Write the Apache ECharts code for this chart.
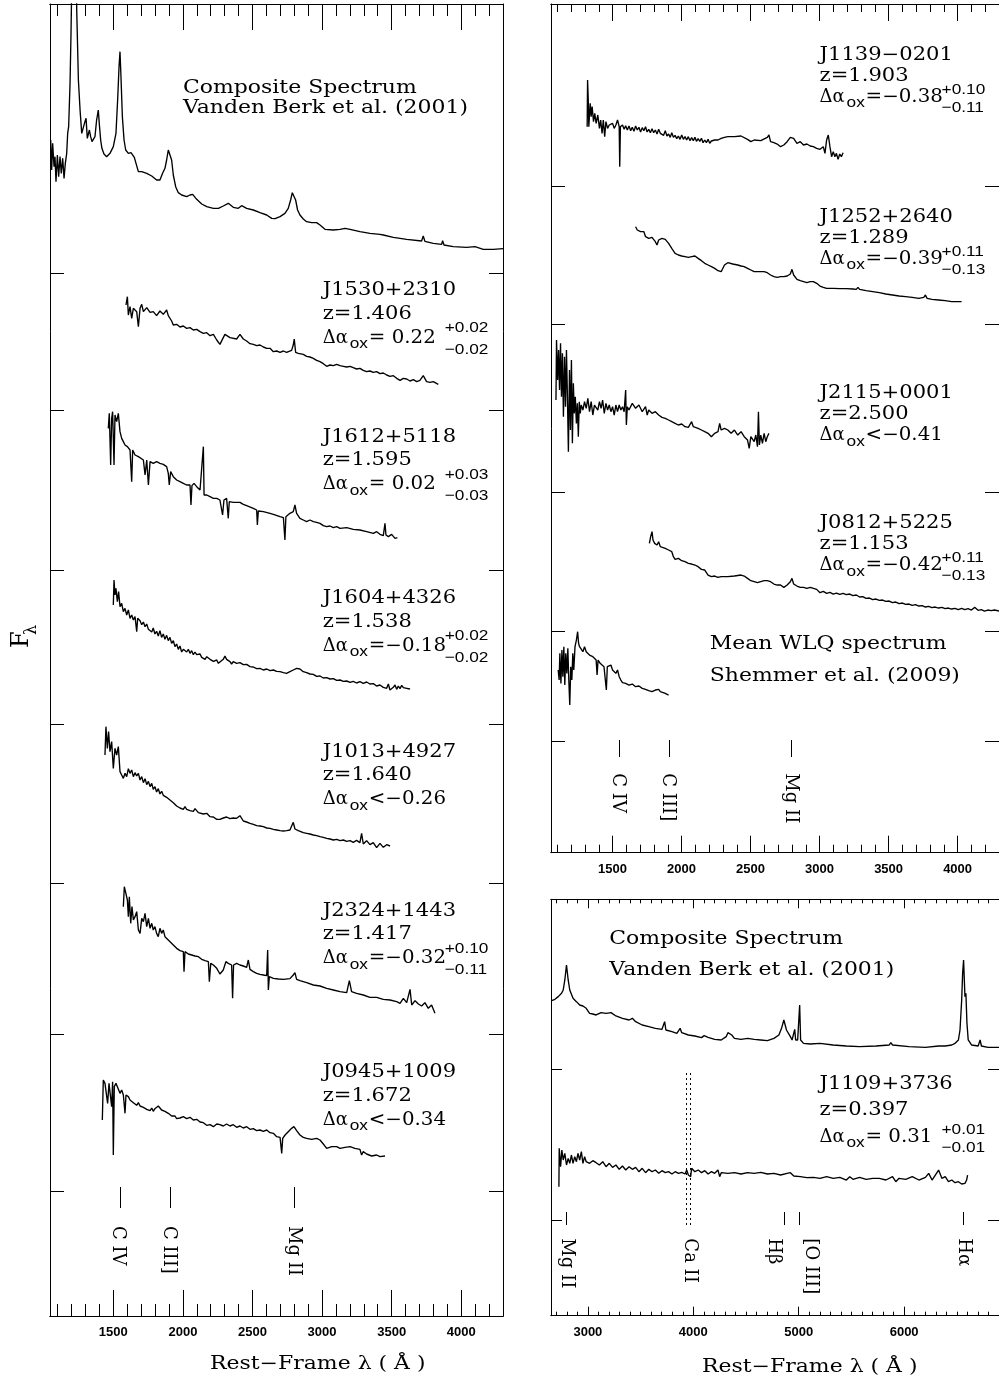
<!DOCTYPE html>
<html><head><meta charset="utf-8">
<script src="https://cdn.jsdelivr.net/npm/echarts@6.0.0/dist/echarts.min.js"></script>
<style>html,body{margin:0;padding:0;background:#fff}#main{width:999px;height:1382px}</style>
</head><body><div id="main"></div><script>
// ---------------- data (rest-frame wavelength in Angstrom, offset flux in arbitrary units) ----------------
const compLeft = [[1050,3528],[1057,3438],[1064,3518],[1074,3448],[1081,3478],[1088,3403],[1098,3483],[1107,3418],[1117,3478],[1126,3428],[1136,3473],[1146,3413],[1155,3458],[1165,3488],[1172,3548],[1179,3568],[1189,3698],[1196,3848],[1203,4048],[1213,4548],[1225,4348],[1237,3918],[1249,3708],[1261,3618],[1273,3548],[1285,3553],[1296,3583],[1304,3593],[1313,3533],[1328,3558],[1337,3538],[1347,3523],[1356,3528],[1368,3538],[1380,3588],[1392,3618],[1399,3578],[1409,3528],[1418,3503],[1433,3486],[1452,3478],[1476,3488],[1500,3508],[1519,3548],[1531,3648],[1541,3748],[1548,3793],[1555,3718],[1565,3598],[1577,3528],[1589,3498],[1608,3488],[1627,3490],[1639,3493],[1651,3476],[1663,3458],[1680,3433],[1704,3433],[1740,3428],[1776,3420],[1811,3408],[1835,3408],[1854,3428],[1871,3443],[1883,3468],[1895,3498],[1907,3503],[1919,3468],[1931,3423],[1948,3388],[1967,3370],[1991,3363],[2027,3358],[2051,3363],[2070,3365],[2099,3350],[2135,3336],[2171,3328],[2219,3323],[2255,3323],[2290,3330],[2326,3338],[2362,3326],[2398,3323],[2422,3331],[2458,3323],[2506,3318],[2554,3310],[2602,3303],[2638,3293],[2662,3292],[2698,3298],[2733,3308],[2757,3323],[2774,3348],[2786,3370],[2798,3376],[2810,3348],[2824,3318],[2841,3303],[2865,3291],[2889,3283],[2925,3280],[2961,3280],[2985,3273],[3021,3260],[3081,3258],[3129,3260],[3165,3263],[3201,3260],[3272,3253],[3344,3248],[3416,3245],[3428,3250],[3440,3243],[3512,3236],[3608,3230],[3715,3225],[3727,3240],[3739,3224],[3799,3218],[3859,3215],[3866,3226],[3876,3213],[3943,3208],[4039,3206],[4099,3208],[4158,3200],[4230,3200],[4302,3202]];
const j1530 = [[1591,3033],[1601,3058],[1608,3003],[1620,3028],[1632,2993],[1644,3023],[1668,3013],[1680,2968],[1692,3023],[1704,3035],[1716,3013],[1740,3025],[1764,3011],[1787,3013],[1811,3001],[1835,3015],[1859,3005],[1883,3018],[1895,3001],[1919,2985],[1931,2973],[1955,2975],[1979,2967],[2003,2970],[2027,2963],[2051,2965],[2075,2958],[2099,2960],[2123,2953],[2147,2948],[2171,2950],[2195,2941],[2219,2945],[2243,2928],[2266,2915],[2290,2935],[2302,2945],[2338,2935],[2386,2931],[2410,2945],[2434,2931],[2458,2925],[2482,2917],[2506,2915],[2530,2911],[2554,2913],[2578,2907],[2602,2903],[2626,2903],[2650,2893],[2674,2895],[2698,2891],[2722,2895],[2745,2891],[2781,2897],[2793,2913],[2800,2931],[2810,2891],[2829,2888],[2865,2885],[2889,2879],[2913,2877],[2937,2873],[2961,2867],[2985,2863],[3009,2857],[3033,2849],[3057,2853],[3081,2851],[3105,2855],[3129,2851],[3153,2849],[3177,2847],[3201,2849],[3224,2845],[3248,2841],[3272,2843],[3296,2837],[3320,2833],[3344,2835],[3368,2831],[3392,2833],[3416,2827],[3440,2829],[3464,2823],[3488,2819],[3512,2821],[3536,2813],[3560,2807],[3584,2813],[3608,2811],[3632,2805],[3656,2809],[3680,2803],[3703,2807],[3727,2821],[3751,2803],[3775,2801],[3799,2803],[3835,2795]];
const j1612 = [[1464,2663],[1471,2708],[1481,2553],[1488,2693],[1495,2713],[1505,2553],[1512,2703],[1524,2683],[1536,2708],[1548,2653],[1560,2633],[1572,2623],[1584,2613],[1601,2608],[1620,2598],[1632,2503],[1639,2598],[1656,2583],[1680,2578],[1716,2568],[1728,2523],[1740,2568],[1752,2493],[1764,2563],[1787,2558],[1811,2563],[1835,2558],[1859,2555],[1883,2548],[1895,2528],[1902,2493],[1912,2533],[1931,2518],[1955,2508],[1979,2503],[2003,2498],[2027,2493],[2051,2493],[2058,2433],[2065,2491],[2080,2498],[2099,2488],[2123,2478],[2147,2608],[2152,2463],[2171,2463],[2195,2458],[2219,2453],[2243,2453],[2266,2448],[2285,2403],[2295,2448],[2314,2453],[2326,2393],[2333,2443],[2362,2441],[2410,2441],[2434,2435],[2458,2431],[2506,2423],[2530,2418],[2535,2373],[2542,2415],[2578,2413],[2626,2408],[2650,2405],[2698,2398],[2722,2395],[2733,2328],[2740,2398],[2769,2408],[2793,2413],[2805,2433],[2817,2408],[2841,2393],[2865,2388],[2889,2383],[2913,2388],[2937,2383],[2961,2381],[2985,2378],[3009,2371],[3033,2368],[3057,2370],[3081,2365],[3105,2368],[3129,2363],[3177,2365],[3224,2360],[3272,2358],[3320,2353],[3368,2348],[3392,2353],[3416,2345],[3440,2341],[3452,2378],[3459,2343],[3476,2338],[3500,2345],[3524,2333],[3541,2335]];
const j1604 = [[1500,2133],[1505,2208],[1512,2163],[1519,2183],[1529,2143],[1538,2173],[1548,2128],[1560,2138],[1572,2113],[1584,2123],[1596,2103],[1608,2118],[1620,2093],[1632,2103],[1644,2088],[1656,2098],[1668,2053],[1675,2093],[1692,2086],[1704,2074],[1716,2082],[1728,2068],[1740,2076],[1752,2060],[1764,2066],[1776,2052],[1787,2064],[1799,2046],[1811,2054],[1823,2040],[1835,2056],[1847,2036],[1859,2046],[1871,2030],[1883,2042],[1895,2026],[1907,2036],[1919,2018],[1931,2026],[1943,2008],[1955,2016],[1967,2000],[1979,2010],[1991,1992],[2003,2000],[2027,1992],[2039,2000],[2051,1988],[2063,1996],[2075,1984],[2087,1992],[2099,1984],[2123,1986],[2135,1976],[2147,1982],[2159,1970],[2171,1978],[2195,1970],[2207,1976],[2219,1964],[2243,1968],[2255,1958],[2266,1964],[2290,1970],[2302,1980],[2314,1970],[2338,1963],[2350,1956],[2362,1963],[2386,1958],[2410,1960],[2434,1954],[2458,1955],[2482,1948],[2506,1947],[2530,1942],[2554,1943],[2578,1938],[2602,1941],[2626,1936],[2650,1938],[2674,1934],[2698,1933],[2722,1930],[2745,1928],[2769,1933],[2793,1938],[2817,1943],[2841,1941],[2865,1933],[2889,1930],[2913,1926],[2937,1925],[2961,1919],[2985,1920],[3009,1914],[3033,1915],[3057,1911],[3081,1912],[3105,1907],[3129,1908],[3153,1904],[3177,1905],[3201,1901],[3224,1904],[3248,1899],[3272,1903],[3296,1898],[3320,1902],[3344,1896],[3368,1897],[3392,1890],[3416,1893],[3440,1886],[3464,1883],[3476,1896],[3488,1878],[3500,1873],[3512,1886],[3524,1893],[3536,1880],[3548,1890],[3560,1882],[3572,1892],[3584,1885],[3608,1883],[3632,1881]];
const j1013 = [[1440,1683],[1447,1768],[1457,1703],[1466,1753],[1476,1693],[1488,1723],[1500,1643],[1512,1703],[1524,1683],[1536,1708],[1548,1633],[1560,1623],[1572,1613],[1584,1628],[1596,1618],[1608,1642],[1620,1628],[1632,1638],[1644,1618],[1656,1630],[1668,1620],[1680,1628],[1692,1608],[1704,1618],[1716,1600],[1728,1612],[1740,1594],[1752,1604],[1764,1588],[1776,1598],[1787,1580],[1799,1588],[1811,1572],[1823,1582],[1835,1566],[1847,1574],[1859,1562],[1871,1568],[1883,1556],[1895,1560],[1907,1548],[1919,1552],[1931,1540],[1943,1542],[1955,1530],[1967,1534],[1979,1524],[1991,1530],[2003,1520],[2015,1528],[2027,1520],[2039,1526],[2051,1516],[2063,1522],[2075,1514],[2087,1522],[2099,1518],[2111,1510],[2123,1514],[2147,1506],[2171,1508],[2195,1498],[2219,1497],[2243,1490],[2266,1490],[2290,1494],[2314,1497],[2338,1492],[2362,1494],[2386,1493],[2410,1501],[2434,1485],[2458,1482],[2482,1478],[2506,1475],[2530,1471],[2554,1470],[2578,1468],[2602,1464],[2626,1463],[2650,1460],[2674,1458],[2698,1456],[2722,1455],[2745,1456],[2769,1458],[2781,1462],[2793,1481],[2805,1461],[2829,1456],[2865,1450],[2889,1448],[2913,1446],[2937,1443],[2961,1441],[2985,1438],[3009,1436],[3033,1433],[3057,1431],[3081,1428],[3105,1430],[3129,1426],[3153,1428],[3177,1424],[3201,1426],[3224,1421],[3248,1427],[3272,1420],[3284,1448],[3296,1416],[3320,1426],[3344,1414],[3368,1420],[3392,1405],[3416,1418],[3440,1406],[3464,1414],[3488,1410]];
const j2324 = [[1572,1228],[1579,1288],[1589,1293],[1601,1248],[1608,1198],[1615,1258],[1625,1178],[1634,1228],[1644,1188],[1656,1198],[1668,1213],[1680,1158],[1692,1148],[1704,1193],[1716,1183],[1728,1208],[1740,1168],[1752,1193],[1764,1163],[1776,1178],[1787,1158],[1799,1168],[1811,1148],[1823,1138],[1835,1163],[1847,1148],[1859,1158],[1871,1138],[1883,1143],[1895,1128],[1907,1123],[1931,1113],[1955,1103],[1979,1096],[2003,1093],[2008,1033],[2015,1093],[2039,1086],[2063,1083],[2087,1080],[2111,1078],[2135,1070],[2159,1066],[2183,1063],[2190,1003],[2200,1058],[2219,1053],[2243,1043],[2266,1026],[2290,1038],[2309,1063],[2326,1058],[2350,1053],[2357,953],[2364,1053],[2386,1058],[2410,1053],[2434,1050],[2458,1046],[2470,1068],[2482,1040],[2506,1033],[2530,1028],[2554,1025],[2578,1023],[2602,1021],[2609,1098],[2614,978],[2621,1018],[2650,1013],[2686,1011],[2722,1010],[2769,1012],[2793,1023],[2805,1030],[2817,1010],[2841,1006],[2889,1000],[2937,993],[2985,990],[3033,983],[3081,978],[3129,973],[3177,970],[3196,1006],[3212,973],[3248,968],[3296,963],[3344,956],[3392,956],[3440,950],[3488,948],[3536,943],[3560,938],[3584,953],[3608,940],[3632,980],[3644,933],[3668,946],[3692,936],[3715,930],[3739,940],[3763,923],[3787,933],[3811,908]];
const j0945 = [[1421,588],[1428,708],[1440,698],[1452,703],[1459,638],[1469,698],[1481,693],[1488,628],[1495,703],[1500,483],[1507,688],[1519,698],[1529,688],[1538,683],[1548,668],[1560,678],[1572,663],[1584,608],[1591,663],[1608,658],[1620,648],[1632,652],[1644,640],[1656,646],[1668,632],[1680,640],[1692,630],[1704,636],[1716,626],[1728,632],[1740,620],[1752,626],[1764,616],[1776,624],[1787,614],[1799,622],[1811,622],[1823,630],[1835,626],[1847,618],[1859,622],[1871,614],[1883,618],[1895,608],[1907,610],[1919,600],[1931,596],[1943,600],[1955,592],[1967,598],[1979,594],[2003,598],[2027,592],[2051,596],[2075,588],[2099,590],[2123,582],[2147,580],[2171,572],[2195,574],[2219,568],[2243,576],[2266,574],[2290,570],[2314,576],[2338,570],[2362,574],[2386,566],[2410,570],[2434,564],[2458,568],[2482,560],[2506,562],[2530,556],[2554,558],[2578,554],[2602,558],[2626,550],[2650,548],[2674,538],[2698,536],[2710,488],[2717,533],[2734,543],[2757,553],[2781,563],[2798,568],[2817,556],[2841,543],[2865,536],[2889,533],[2925,530],[2961,533],[2985,528],[3009,516],[3033,503],[3069,508],[3105,508],[3129,503],[3165,506],[3201,508],[3236,503],[3272,500],[3284,483],[3296,493],[3320,486],[3356,480],[3392,483],[3416,478],[3452,480]];
const j1139 = [[1316,2178],[1319,2318],[1324,2258],[1328,2178],[1338,2248],[1345,2208],[1352,2238],[1362,2193],[1371,2218],[1381,2188],[1393,2213],[1405,2173],[1414,2198],[1424,2158],[1433,2198],[1443,2148],[1452,2193],[1464,2173],[1476,2183],[1488,2178],[1500,2188],[1512,2173],[1524,2183],[1536,2198],[1548,2178],[1552,2058],[1557,2178],[1572,2183],[1584,2170],[1595,2181],[1607,2168],[1619,2180],[1631,2166],[1643,2176],[1655,2164],[1667,2180],[1679,2168],[1691,2176],[1703,2162],[1715,2175],[1727,2166],[1739,2178],[1750,2162],[1762,2170],[1774,2160],[1786,2172],[1798,2160],[1810,2168],[1822,2156],[1834,2170],[1846,2158],[1858,2163],[1870,2152],[1882,2166],[1894,2150],[1906,2156],[1918,2146],[1929,2160],[1941,2146],[1953,2152],[1965,2142],[1977,2150],[1989,2140],[2001,2153],[2013,2140],[2025,2148],[2037,2138],[2049,2148],[2061,2136],[2073,2145],[2085,2136],[2097,2146],[2108,2134],[2120,2142],[2132,2134],[2144,2143],[2156,2130],[2168,2138],[2180,2130],[2192,2140],[2204,2128],[2216,2135],[2228,2130],[2240,2138],[2264,2138],[2287,2143],[2311,2146],[2335,2148],[2383,2148],[2431,2150],[2478,2140],[2502,2133],[2526,2138],[2574,2136],[2621,2146],[2633,2153],[2645,2133],[2669,2130],[2693,2126],[2717,2118],[2741,2123],[2765,2133],[2788,2146],[2812,2143],[2836,2128],[2860,2133],[2884,2123],[2908,2126],[2932,2120],[2955,2118],[2979,2113],[3003,2110],[3027,2118],[3039,2098],[3051,2138],[3063,2153],[3075,2118],[3087,2088],[3099,2103],[3111,2088],[3122,2098],[3134,2080],[3146,2096],[3158,2088],[3170,2100]];
const j1252 = [[1667,1878],[1679,1868],[1691,1873],[1703,1863],[1715,1858],[1727,1863],[1739,1848],[1762,1843],[1786,1846],[1810,1833],[1822,1823],[1834,1838],[1858,1843],[1882,1840],[1906,1828],[1929,1813],[1953,1798],[1977,1793],[2001,1790],[2025,1788],[2049,1786],[2073,1788],[2097,1790],[2120,1783],[2144,1776],[2168,1768],[2192,1763],[2216,1758],[2240,1753],[2264,1746],[2287,1743],[2299,1748],[2311,1763],[2335,1770],[2371,1766],[2407,1763],[2431,1760],[2454,1758],[2478,1753],[2502,1748],[2526,1743],[2550,1743],[2574,1743],[2598,1743],[2621,1740],[2645,1733],[2669,1728],[2693,1726],[2717,1728],[2741,1728],[2765,1730],[2788,1736],[2800,1750],[2812,1733],[2836,1720],[2860,1716],[2884,1713],[2908,1710],[2932,1713],[2955,1713],[2979,1708],[3003,1700],[3027,1696],[3051,1693],[3099,1693],[3146,1692],[3194,1692],[3242,1691],[3266,1690],[3278,1696],[3290,1690],[3337,1686],[3385,1683],[3433,1680],[3480,1676],[3528,1673],[3576,1670],[3624,1668],[3671,1666],[3719,1663],[3755,1666],[3767,1673],[3779,1663],[3814,1660],[3862,1658],[3910,1656],[3957,1653],[4029,1653]];
const j2115 = [[1090,1358],[1094,1538],[1102,1418],[1109,1508],[1116,1388],[1123,1528],[1130,1368],[1137,1498],[1144,1308],[1152,1488],[1159,1338],[1166,1508],[1173,1368],[1180,1203],[1188,1448],[1195,1268],[1202,1478],[1209,1228],[1216,1408],[1223,1318],[1230,1368],[1238,1288],[1245,1348],[1252,1248],[1259,1353],[1266,1318],[1273,1343],[1285,1328],[1297,1353],[1309,1333],[1321,1363],[1333,1323],[1345,1353],[1357,1313],[1369,1343],[1381,1348],[1393,1328],[1405,1353],[1417,1333],[1428,1358],[1440,1318],[1452,1348],[1464,1328],[1476,1343],[1488,1323],[1500,1338],[1512,1313],[1524,1343],[1536,1323],[1548,1343],[1560,1328],[1572,1338],[1584,1323],[1595,1388],[1600,1283],[1607,1338],[1619,1328],[1643,1348],[1667,1333],[1691,1343],[1715,1323],[1739,1338],[1751,1313],[1762,1328],[1786,1318],[1810,1323],[1834,1313],[1858,1306],[1882,1303],[1906,1298],[1929,1293],[1953,1288],[1977,1283],[2001,1286],[2025,1278],[2049,1276],[2073,1293],[2085,1278],[2097,1283],[2120,1273],[2144,1268],[2168,1263],[2192,1258],[2216,1248],[2240,1258],[2264,1263],[2276,1288],[2287,1268],[2311,1273],[2335,1268],[2359,1258],[2383,1268],[2407,1253],[2431,1263],[2454,1248],[2478,1238],[2490,1213],[2502,1248],[2526,1233],[2538,1253],[2550,1218],[2557,1323],[2564,1223],[2574,1253],[2586,1228],[2598,1258],[2610,1233],[2621,1248],[2633,1258]];
const j0812 = [[1767,928],[1776,948],[1786,963],[1793,938],[1805,928],[1822,923],[1834,933],[1846,918],[1858,918],[1882,913],[1906,908],[1929,903],[1941,888],[1953,880],[1977,883],[2001,876],[2025,873],[2049,868],[2073,866],[2097,863],[2120,858],[2144,850],[2168,848],[2192,833],[2216,828],[2240,830],[2264,826],[2287,828],[2335,828],[2383,830],[2431,833],[2454,830],[2478,823],[2502,816],[2526,813],[2550,810],[2574,813],[2598,816],[2621,816],[2645,813],[2669,806],[2693,803],[2717,803],[2741,796],[2765,803],[2788,813],[2800,823],[2812,806],[2836,800],[2860,796],[2884,796],[2908,793],[2932,796],[2979,790],[3003,780],[3027,784],[3051,778],[3075,781],[3099,776],[3122,779],[3146,775],[3170,778],[3194,774],[3218,776],[3242,771],[3266,773],[3290,767],[3313,768],[3337,763],[3361,764],[3385,759],[3409,761],[3433,757],[3457,758],[3480,754],[3504,755],[3528,750],[3552,752],[3576,747],[3600,749],[3624,745],[3648,746],[3671,742],[3695,744],[3719,740],[3743,741],[3767,737],[3790,739],[3814,735],[3838,737],[3862,734],[3886,736],[3910,732],[3933,734],[3957,731],[3981,733],[4005,729],[4029,733],[4052,729],[4076,732],[4100,728],[4124,736],[4148,727],[4172,729],[4195,725],[4219,728],[4243,726],[4268,728],[4300,725]];
const wlqMean = [[1106,548],[1113,518],[1118,598],[1126,508],[1133,608],[1140,528],[1147,618],[1154,503],[1161,598],[1169,538],[1176,613],[1183,518],[1190,443],[1197,558],[1205,518],[1212,598],[1219,548],[1228,618],[1238,638],[1247,663],[1254,628],[1261,618],[1273,613],[1285,603],[1297,618],[1309,603],[1321,608],[1333,593],[1345,598],[1357,588],[1369,593],[1381,578],[1388,533],[1395,578],[1410,568],[1424,573],[1438,558],[1448,563],[1455,488],[1462,558],[1476,553],[1488,563],[1500,548],[1512,553],[1524,538],[1536,548],[1548,528],[1560,518],[1572,510],[1595,508],[1619,503],[1643,506],[1667,498],[1691,500],[1715,493],[1739,490],[1762,486],[1786,483],[1810,488],[1834,490],[1846,483],[1858,480],[1882,478],[1906,473]];
const compOpt = [[2656,945],[2687,949],[2719,957],[2750,967],[2766,977],[2781,1007],[2797,1052],[2813,1007],[2828,977],[2859,952],[2891,942],[2922,932],[2953,929],[2984,922],[3016,907],[3047,905],[3078,902],[3125,909],[3172,907],[3219,909],[3266,899],[3328,892],[3391,887],[3422,892],[3453,882],[3515,872],[3578,867],[3640,862],[3703,859],[3719,862],[3728,882],[3740,857],[3797,852],[3844,847],[3875,862],[3890,849],[3953,842],[4015,839],[4078,834],[4103,840],[4140,835],[4203,829],[4265,827],[4312,837],[4328,849],[4343,852],[4365,842],[4390,832],[4453,829],[4515,832],[4578,829],[4640,827],[4703,825],[4765,832],[4812,842],[4837,862],[4859,887],[4884,857],[4921,837],[4937,827],[4953,832],[4962,859],[4971,827],[4990,827],[5009,932],[5018,827],[5046,817],[5109,815],[5202,817],[5327,812],[5452,809],[5577,807],[5734,809],[5859,812],[5874,819],[5890,812],[6046,807],[6202,805],[6327,809],[6390,809],[6452,812],[6483,817],[6515,827],[6530,857],[6546,947],[6555,1027],[6564,1067],[6577,957],[6586,967],[6596,877],[6608,827],[6639,812],[6702,809],[6721,827],[6733,809],[6796,805],[6858,805],[6900,805]];
const j1109 = [[2725,387],[2728,502],[2741,447],[2753,497],[2766,467],[2781,487],[2797,452],[2813,472],[2828,457],[2844,482],[2859,457],[2875,477],[2891,462],[2906,487],[2922,467],[2938,492],[2953,457],[2969,477],[2984,462],[3000,467],[3016,457],[3047,465],[3078,459],[3109,452],[3141,462],[3172,447],[3203,457],[3234,445],[3266,452],[3297,439],[3328,449],[3359,437],[3391,447],[3422,439],[3453,445],[3484,432],[3515,442],[3547,429],[3578,439],[3609,432],[3640,437],[3672,427],[3703,435],[3734,429],[3765,432],[3797,425],[3828,432],[3859,427],[3890,430],[3922,425],[3937,437],[3953,422],[3975,417],[3984,442],[3999,437],[4015,432],[4047,437],[4078,429],[4109,435],[4140,425],[4172,432],[4203,427],[4234,437],[4250,417],[4265,429],[4328,427],[4390,429],[4453,425],[4515,429],[4578,427],[4640,430],[4703,425],[4765,427],[4828,422],[4890,427],[4921,429],[4953,419],[5015,417],[5077,414],[5140,415],[5202,412],[5265,417],[5327,412],[5390,415],[5452,407],[5484,417],[5515,409],[5577,415],[5640,409],[5702,412],[5765,412],[5827,407],[5890,417],[5921,402],[5952,412],[6015,409],[6077,417],[6140,407],[6202,415],[6233,427],[6265,407],[6296,422],[6327,437],[6358,412],[6390,417],[6421,402],[6452,407],[6483,399],[6515,402],[6546,395],[6577,397],[6593,407],[6602,422]];

// axis ranges and ticks
const xRanges = [[1045, 4300], [1054, 4300], [2650, 6900]];
const yRanges = [[0, 3936], [0, 2546], [0, 1249]];
const uvMajor = [1500, 2000, 2500, 3000, 3500, 4000];
const uvMinor = [1100,1200,1300,1400,1600,1700,1800,1900,2100,2200,2300,2400,2600,2700,2800,2900,3100,3200,3300,3400,3600,3700,3800,3900,4100,4200];
const optMajor = [3000, 4000, 5000, 6000];
const optMinor = [2700,2800,2900,3100,3200,3300,3400,3500,3600,3700,3800,3900,4100,4200,4300,4400,4500,4600,4700,4800,4900,5100,5200,5300,5400,5500,5600,5700,5800,5900,6100,6200,6300,6400,6500,6600,6700,6800];
const majorTicks = [uvMajor, uvMajor, optMajor];
const minorTicks = [uvMinor, uvMinor, optMinor];
const offsetTicks = [[3128, 2718, 2238, 1775, 1298, 845, 373], [1998, 1586, 1080, 665, 333], [740, 287]];

// emission-line markers
const uvLines = [1549, 1909, 2798];
const optLines = [2798, 4861, 5007, 6563];
const caIILines = [3934, 3969];
const labelsLeft = [['C IV', 1530], ['C III]', 1900], ['Mg II', 2793]];
const labelsWLQ = [['C IV', 1536], ['C III]', 1900], ['Mg II', 2789]];
const labelsOpt = [['Mg II', 2797], ['Ca II', 3963], ['Hβ', 4765], ['[O III]', 5109], ['Hα', 6561]];

// annotations
const leftNames = ['J1530+2310', 'J1612+5118', 'J1604+4326', 'J1013+4927', 'J2324+1443', 'J0945+1009'];
const leftZ = ['1.406', '1.595', '1.538', '1.640', '1.417', '1.672'];
const leftDax = ['= 0.22', '= 0.02', '=−0.18', '<−0.26', '=−0.32', '<−0.34'];
const leftErr = [['+0.02', '−0.02'], ['+0.03', '−0.03'], ['+0.02', '−0.02'], null, ['+0.10', '−0.11'], null];
const leftAt = [3057, 2618, 2133, 1673, 1196, 711];
const rightNames = ['J1139−0201', 'J1252+2640', 'J2115+0001', 'J0812+5225'];
const rightZ = ['1.903', '1.289', '2.500', '1.153'];
const rightDax = ['=−0.38', '=−0.39', '<−0.41', '=−0.42'];
const rightErr = [['+0.10', '−0.11'], ['+0.11', '−0.13'], null, ['+0.11', '−0.13']];
const rightAt = [2372, 1886, 1358, 968];
const lowName = 'J1109+3736', lowZ = '0.397', lowDax = '= 0.31', lowErr = ['+0.01', '−0.01'], lowAt = 675;

// ---------------- chart ----------------
const SERIF = '"DejaVu Serif", serif';
const SANS = '"Liberation Sans", Arial, sans-serif';
const chart = echarts.init(document.getElementById('main'), null, { renderer: 'canvas' });
const grids = [
  { left: 50, top: 4, width: 453, height: 1312 },
  { left: 551, top: 4, width: 453.5, height: 848.7 },
  { left: 551, top: 899.3, width: 453.5, height: 416.4 }
];
const majLen = [26, 17, 9], minLen = [12, 8, 4], yLen = [14, 14, 11];
const black = { color: '#000', width: 1 };
const xAxis = [], yAxis = [];
for (let g = 0; g < 3; g++) {
  const c = { type: 'value', gridIndex: g, min: xRanges[g][0], max: xRanges[g][1], splitLine: { show: false },
    axisLine: { show: true, onZero: false, lineStyle: black } };
  xAxis.push({ ...c, position: 'bottom',
    axisTick: { show: true, inside: true, length: majLen[g], lineStyle: black, customValues: majorTicks[g] },
    axisLabel: { show: true, customValues: majorTicks[g], formatter: v => String(v), color: '#000',
      fontFamily: SANS, fontWeight: 'bold', fontSize: 13, margin: 10 } });
  xAxis.push({ ...c, position: 'bottom', axisLabel: { show: false },
    axisTick: { show: true, inside: true, length: minLen[g], lineStyle: black, customValues: minorTicks[g] } });
  xAxis.push({ ...c, position: 'top', axisLabel: { show: false },
    axisTick: { show: true, inside: true, length: majLen[g], lineStyle: black, customValues: majorTicks[g] } });
  xAxis.push({ ...c, position: 'top', axisLabel: { show: false },
    axisTick: { show: true, inside: true, length: minLen[g], lineStyle: black, customValues: minorTicks[g] } });
  const cy = { type: 'value', gridIndex: g, min: yRanges[g][0], max: yRanges[g][1], splitLine: { show: false },
    axisLabel: { show: false }, axisLine: { show: true, onZero: false, lineStyle: black },
    axisTick: { show: true, inside: true, length: yLen[g], lineStyle: black, customValues: offsetTicks[g] } };
  yAxis.push({ ...cy, position: 'left' });
  yAxis.push({ ...cy, position: 'right' });
}

const spectra = [[0, compLeft], [0, j1530], [0, j1612], [0, j1604], [0, j1013], [0, j2324], [0, j0945],
  [1, j1139], [1, j1252], [1, j2115], [1, j0812], [1, wlqMean], [2, compOpt], [2, j1109]];
function tickPairs(lams, y1, y2, style) {
  return lams.map(l => [{ coord: [l, y1], lineStyle: style }, { coord: [l, y2] }]);
}
const markers = {
  0: tickPairs(uvLines, 387, 324),
  1: tickPairs(uvLines, 338, 287),
  2: tickPairs(optLines, 311, 272).concat(tickPairs(caIILines, 728, 272, { type: [2, 3], width: 1, color: '#000' }))
};
const used = {};
const series = spectra.map(([g, d]) => {
  const s = { type: 'line', xAxisIndex: 4 * g, yAxisIndex: 2 * g, data: d, showSymbol: false, symbol: 'none',
    lineStyle: { color: '#000', width: 1.35 }, silent: true, clip: true, emphasis: { disabled: true } };
  if (!used[g]) {
    used[g] = true;
    s.markLine = { silent: true, symbol: ['none', 'none'], animation: false, label: { show: false },
      lineStyle: { color: '#000', width: 1, type: 'solid' }, emphasis: { disabled: true }, data: markers[g] };
  }
  return s;
});

chart.setOption({ backgroundColor: '#fff', animation: false, grid: grids, xAxis, yAxis, series });

// ---------------- text ----------------
function P(g, lam, v) { return chart.convertToPixel({ xAxisIndex: 4 * g, yAxisIndex: 2 * g }, [lam, v]); }
const MAIN = 18, SMALL = 15;
function T(x, base, text, size, family, opt) {
  opt = opt || {};
  return { type: 'text', x: x, y: base - 0.35 * size, rotation: opt.rot || 0, scaleX: opt.sx || 1, silent: true, z: 100,
    style: { text: text, font: size + 'px ' + family, fill: '#000', align: 'left', verticalAlign: 'middle',
      textAlign: 'left', textVerticalAlign: 'middle' } };
}
const els = [];
function mainT(x, b, t, sx) { els.push(T(x, b, t, MAIN, SERIF, { sx: sx || 1.17 })); }
function note(g, lam, v, name, z, dax, err, sp, supOff, subOff) {
  const [x, b] = P(g, lam, v);
  mainT(x, b, name);
  mainT(x, b + sp, 'z=' + z);
  const b3 = b + 2 * sp;
  mainT(x, b3, 'Δα', 1.0);
  els.push(T(x + 27, b3 + 5, 'ox', SMALL, SANS, { sx: 1.15 }));
  mainT(x + 46, b3, dax, 1.1);
  if (err) {
    els.push(T(x + 122, b3 + supOff, err[0], SMALL, SANS, { sx: 1.15 }));
    els.push(T(x + 122, b3 + subOff, err[1], SMALL, SANS, { sx: 1.15 }));
  }
}
leftNames.forEach((n, i) => note(0, 3005, leftAt[i], n, leftZ[i], leftDax[i], leftErr[i], 23.7, -11, 10.5));
rightNames.forEach((n, i) => note(1, 3000, rightAt[i], n, rightZ[i], rightDax[i], rightErr[i], 20.8, -8.5, 9.5));
note(2, 5197, lowAt, lowName, lowZ, lowDax, lowErr, 26.3, -8.5, 9.5);

// composite / mean labels
(function () {
  let [x, b] = P(0, 2000, 3663); mainT(x, b, 'Composite Spectrum', 1.22); mainT(x, b + 20, 'Vanden Berk et al. (2001)', 1.22);
  [x, b] = P(2, 3203, 1109); mainT(x, b, 'Composite Spectrum', 1.22); mainT(x, b + 30.7, 'Vanden Berk et al. (2001)', 1.22);
  [x, b] = P(1, 2204, 606); mainT(x, b, 'Mean WLQ spectrum', 1.22); mainT(x, b + 32, 'Shemmer et al. (2009)', 1.22);
})();

// rotated emission-line labels
function lineLabels(g, list, v) {
  list.forEach(([t, lam]) => {
    const [x, y] = P(g, lam, v);
    els.push({ type: 'text', x: x, y: y, rotation: -Math.PI / 2, silent: true, z: 100,
      style: { text: t, font: MAIN + 'px ' + SERIF, fill: '#000', align: 'left', verticalAlign: 'middle',
        textAlign: 'left', textVerticalAlign: 'middle' } });
  });
}
lineLabels(0, labelsLeft, 270);
lineLabels(1, labelsWLQ, 238);
lineLabels(2, labelsOpt, 232);

// axis titles
mainT(210, 1371, 'Rest−Frame λ ( Å )', 1.22);
mainT(702, 1374, 'Rest−Frame λ ( Å )', 1.22);
els.push({ type: 'text', x: 21.6, y: 648, rotation: Math.PI / 2, silent: true, z: 100,
  style: { text: 'F', font: '24px ' + SERIF, fill: '#000', align: 'left', verticalAlign: 'middle', textAlign: 'left', textVerticalAlign: 'middle' } });
els.push({ type: 'text', x: 31.4, y: 635, rotation: Math.PI / 2, silent: true, z: 100,
  style: { text: 'λ', font: '16px ' + SERIF, fill: '#000', align: 'left', verticalAlign: 'middle', textAlign: 'left', textVerticalAlign: 'middle' } });

chart.setOption({ graphic: els });
</script></body></html>
